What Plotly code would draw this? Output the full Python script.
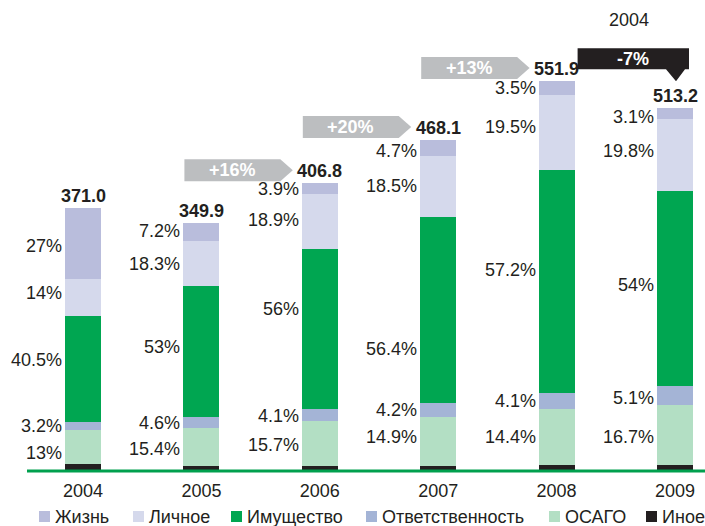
import plotly.graph_objects as go

# ---------------- data ----------------
years = ["2004", "2005", "2006", "2007", "2008", "2009"]
totals = [371.0, 349.9, 406.8, 468.1, 551.9, 513.2]
series_names = ["Жизнь", "Личное", "Имущество", "Ответственность", "ОСАГО", "Иное"]
zhizn = [27, 7.2, 3.9, 4.7, 3.5, 3.1]
lichnoe = [14, 18.3, 18.9, 18.5, 19.5, 19.8]
imushchestvo = [40.5, 53, 56, 56.4, 57.2, 54]
otvetstvennost = [3.2, 4.6, 4.1, 4.2, 4.1, 5.1]
osago = [13, 15.4, 15.7, 14.9, 14.4, 16.7]
inoe = [round(100 - a - b - c - d - e, 1) for a, b, c, d, e in
        zip(zhizn, lichnoe, imushchestvo, otvetstvennost, osago)]
growth_labels = ["+16%", "+20%", "+13%", "-7%"]   # 2006..2009 vs previous year
stray_label = "2004"

# ---------------- style ----------------
colors = {
    "Жизнь": "#B9BDDC",
    "Личное": "#D5D9EC",
    "Имущество": "#00A651",
    "Ответственность": "#A4B4D6",
    "ОСАГО": "#B3DFC4",
    "Иное": "#231F20",
}
TXT = "#231F20"
FONT = "Arial, Liberation Sans, sans-serif"
FS = 18

W, H = 705, 526
PLOT_H = 478             # plot area height in px
MB = H - PLOT_H
BASE_PX = 470            # pixel row of y = 0
PXY = 0.705              # px per unit
YMIN = -(PLOT_H - BASE_PX) / PXY
YMAX = BASE_PX / PXY
PXX = 118.4              # px per category
X0 = -83 / PXX
X1 = X0 + W / PXX
BW = 36 / PXX

def dx(px):
    return px / PXX

def dy(px):
    return px / PXY

def sx(p):
    return X0 + p / PXX

def sy(p):
    return (BASE_PX - p) / PXY

def px_paper(p):
    return p / W

def py_paper(p):
    return (PLOT_H - p) / PLOT_H

x = list(range(len(years)))
pct = {
    "Жизнь": zhizn, "Личное": lichnoe, "Имущество": imushchestvo,
    "Ответственность": otvetstvennost, "ОСАГО": osago, "Иное": inoe,
}
stack_order = ["Иное", "ОСАГО", "Ответственность", "Имущество", "Личное", "Жизнь"]

fig = go.Figure()
for name in stack_order:
    vals = [t * p / 100 for t, p in zip(totals, pct[name])]
    fig.add_trace(go.Bar(
        x=x, y=vals, name=name, width=BW,
        marker=dict(color=colors[name], line=dict(width=0)),
        showlegend=False, hoverinfo="skip",
    ))

# label nudges in px (positive = downwards) to mimic the hand placement
nudge = {
    "ОСАГО": [6, 2, 1.5, -4, 0, 2],
    "Ответственность": [0, 0, 1, 0, 0, 2],
    "Имущество": [-9, -5, -20, 39, -12, -4],
    "Личное": [-4, 0, -1.5, 0, -5, -4],
    "Жизнь": [2, -1, 0, 3, 0, 3],
}

annotations = []
for i in x:
    cum = 0.0
    for name in stack_order:
        v = totals[i] * pct[name][i] / 100
        mid = cum + v / 2
        cum += v
        if name == "Иное":
            continue
        annotations.append(dict(
            x=i - BW / 2, y=mid, xref="x", yref="y", xanchor="right", yanchor="middle",
            xshift=-1, yshift=-nudge[name][i], showarrow=False,
            text=f"{pct[name][i]:g}%", font=dict(family=FONT, size=FS, color=TXT),
        ))
    annotations.append(dict(
        x=i, y=totals[i], xref="x", yref="y", xanchor="center", yanchor="bottom",
        yshift=0, showarrow=False, text=f"<b>{totals[i]:.1f}</b>",
        font=dict(family=FONT, size=FS, color=TXT),
    ))

shapes = []
for k, lab in enumerate(growth_labels):
    i = k + 2
    if lab.startswith("-"):
        # black callout box above the bar
        xl = (i - 1) + BW / 2 + dx(3)
        xr = i + BW / 2 - dx(4)
        yb = totals[i] + dy(39)
        yt = yb + dy(21)
        tip_x = i + dx(1)
        path = (f"M{xl},{yb} L{tip_x - dx(10)},{yb} L{tip_x},{yb - dy(12)} "
                f"L{tip_x + dx(9)},{yb} L{xr},{yb} L{xr},{yt} L{xl},{yt} Z")
        shapes.append(dict(type="path", xref="x", yref="y", path=path,
                           fillcolor="#231F20", line=dict(width=0), layer="above"))
        annotations.append(dict(
            x=(xl + xr) / 2, y=(yb + yt) / 2, xref="x", yref="y", showarrow=False,
            text=f"<b>{lab}</b>", font=dict(family=FONT, size=FS, color="white"),
        ))
    else:
        # grey arrow pointing to the bar total
        xl = (i - 1) - BW / 2 + dx(1)
        tip = i - dx(27)
        xr = tip - dx(12.5)
        yc = totals[i] + dy(13)
        yb, yt = yc - dy(11), yc + dy(11)
        path = f"M{xl},{yb} L{xr},{yb} L{tip},{yc} L{xr},{yt} L{xl},{yt} Z"
        shapes.append(dict(type="path", xref="x", yref="y", path=path,
                           fillcolor="#BCBEC0", line=dict(width=0), layer="above"))
        annotations.append(dict(
            x=(xl + xr) / 2, y=yc, xref="x", yref="y", showarrow=False,
            text=f"<b>{lab}</b>", font=dict(family=FONT, size=FS, color="white"),
        ))

# green baseline
shapes.append(dict(type="line", xref="x", yref="y", x0=sx(27), x1=X1,
                   y0=-dy(1), y1=-dy(1), line=dict(color="#00A04E", width=3),
                   layer="above"))

# stray year label at the top
annotations.append(dict(x=sx(629), y=sy(20), xref="x", yref="y",
                        showarrow=False, text=stray_label,
                        font=dict(family=FONT, size=FS, color=TXT)))

# legend (manual, to match the compact spacing)
leg_x = [39, 133, 231, 366, 549, 646]
leg_cy = 516.5
for name, lx in zip(series_names, leg_x):
    shapes.append(dict(type="rect", xref="paper", yref="paper",
                       x0=px_paper(lx), x1=px_paper(lx + 11),
                       y0=py_paper(leg_cy + 5.5), y1=py_paper(leg_cy - 5.5),
                       fillcolor=colors[name], line=dict(width=0)))
    annotations.append(dict(x=px_paper(lx + 14), y=py_paper(leg_cy),
                            xref="paper", yref="paper", xanchor="left", yanchor="middle",
                            showarrow=False, text=name,
                            font=dict(family=FONT, size=FS, color=TXT)))

fig.update_layout(
    width=W, height=H,
    margin=dict(l=0, r=0, t=0, b=MB, pad=0),
    paper_bgcolor="white", plot_bgcolor="white",
    barmode="stack", bargap=0,
    showlegend=False, hovermode=False,
    shapes=shapes, annotations=annotations,
    xaxis=dict(range=[X0, X1], tickvals=x, ticktext=years, showgrid=False,
               zeroline=False, showline=False, ticks="",
               tickfont=dict(family=FONT, size=FS, color=TXT), fixedrange=True),
    yaxis=dict(range=[YMIN, YMAX], visible=False, fixedrange=True),
)

fig.write_html(
    "out.html",
    config={"displayModeBar": False},
    post_script="document.body.style.margin='0';document.body.style.overflow='hidden';",
)
